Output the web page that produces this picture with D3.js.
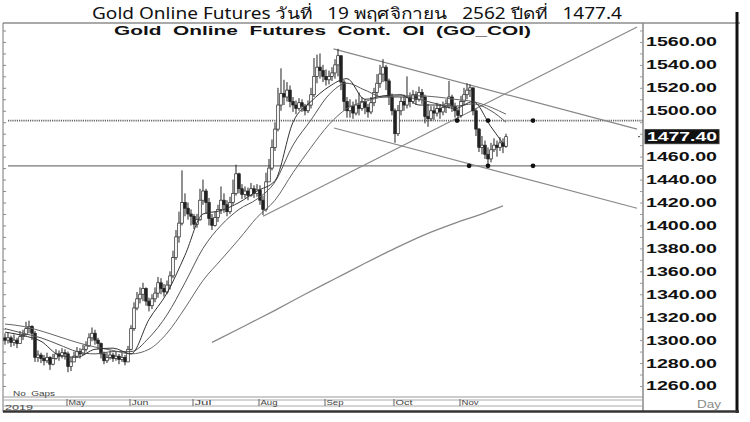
<!DOCTYPE html>
<html><head><meta charset="utf-8">
<script src="https://cdn.jsdelivr.net/npm/d3@7"></script>
<style>body{margin:0;background:#fff}svg{display:block}</style>
</head><body><svg id="c" width="750" height="422"></svg>
<script>
// ---- data ----
const titleText = "Gold Online Futures วันที่   19 พฤศจิกายน   2562 ปีดที่   1477.4";
const subtitleText = "Gold  Online  Futures  Cont.  OI  (GO_COI)";
const firstOpen = 1302;
const closes = [1300,1302,1298,1300,1297,1303,1305,1310,1312,1306,
1285,1287,1284,1282,1285,1279,1284,1288,1286,1289,
1288,1277,1281,1286,1290,1288,1292,1295,1302,1306,
1300,1297,1288,1282,1285,1287,1284,1286,1283,1285,
1281,1292,1310,1328,1336,1340,1345,1334,1330,1336,
1341,1350,1345,1342,1348,1356,1372,1390,1402,1420,
1415,1410,1408,1401,1405,1422,1430,1420,1406,1400,
1407,1414,1422,1418,1412,1420,1428,1445,1432,1427,
1430,1426,1432,1428,1431,1422,1414,1438,1450,1468,
1484,1505,1515,1512,1518,1508,1505,1502,1507,1504,
1500,1505,1514,1530,1538,1535,1530,1527,1530,1533,
1540,1548,1525,1508,1500,1504,1498,1505,1502,1508,
1503,1499,1507,1516,1524,1532,1538,1526,1512,1500,
1480,1500,1508,1505,1512,1508,1514,1510,1516,1512,
1495,1493,1500,1498,1502,1499,1503,1506,1512,1504,
1500,1496,1508,1514,1518,1520,1500,1484,1468,1470,
1462,1458,1466,1470,1468,1472,1469,1477.4];
const highs = [1306,1307,1304,1305,1302,1308,1309,1316,1317,1313,
1308,1291,1289,1287,1289,1286,1288,1292,1291,1293,
1292,1290,1285,1290,1294,1293,1296,1299,1306,1311,
1309,1302,1298,1290,1289,1291,1289,1290,1288,1289,
1287,1295,1313,1333,1342,1346,1350,1346,1337,1340,
1346,1355,1354,1349,1352,1360,1378,1396,1412,1448,
1428,1420,1414,1410,1410,1432,1440,1432,1424,1410,
1412,1418,1434,1428,1422,1425,1440,1453,1446,1436,
1434,1433,1437,1435,1436,1435,1426,1446,1458,1475,
1490,1520,1537,1527,1525,1522,1512,1509,1511,1510,
1506,1509,1520,1546,1549,1550,1540,1536,1535,1538,
1545,1554,1548,1527,1512,1510,1508,1510,1516,1512,
1510,1506,1512,1520,1532,1540,1545,1540,1528,1515,
1502,1505,1512,1514,1530,1516,1518,1517,1521,1519,
1514,1506,1504,1504,1507,1505,1508,1510,1526,1514,
1507,1502,1513,1520,1524,1523,1520,1502,1485,1478,
1474,1468,1472,1476,1474,1477,1476,1480];
const lows = [1296,1297,1294,1295,1293,1297,1300,1304,1306,1300,
1281,1281,1280,1278,1280,1274,1278,1283,1282,1284,
1283,1272,1273,1281,1285,1284,1287,1290,1294,1299,
1296,1292,1284,1279,1280,1283,1281,1282,1279,1281,
1278,1283,1291,1308,1326,1332,1334,1330,1325,1327,
1333,1337,1340,1338,1340,1344,1354,1370,1385,1400,
1408,1405,1400,1397,1398,1404,1418,1410,1400,1396,
1399,1403,1410,1411,1408,1410,1418,1426,1428,1423,
1424,1422,1425,1424,1425,1418,1409,1412,1438,1448,
1465,1482,1500,1505,1508,1503,1499,1497,1500,1499,
1496,1498,1502,1512,1524,1528,1525,1522,1523,1526,
1528,1530,1518,1500,1494,1494,1493,1496,1496,1500,
1497,1494,1497,1504,1512,1520,1525,1518,1505,1496,
1472,1478,1496,1500,1502,1503,1506,1505,1508,1506,
1489,1486,1491,1492,1495,1493,1496,1498,1502,1499,
1494,1491,1494,1505,1510,1512,1496,1478,1464,1462,
1458,1451,1455,1464,1460,1465,1463,1468];
// moving averages, sampled every few sessions
const maIdx  = [0,6,12,18,24,30,36,42,48,54,60,66,72,78,84,90,96,102,108,114,120,126,132,138,144,150,156,162,167];
const maFast = [1307,1304,1299,1287,1285,1292,1293,1288,1318,1341,1374,1410,1413,1420,1430,1439,1490,1508,1521,1528,1510,1513,1514,1505,1505,1502,1508,1486,1468];
const maMid  = [1310,1306,1302,1296,1290,1288,1290,1290,1302,1322,1350,1380,1400,1414,1423,1438,1470,1492,1514,1524,1518,1512,1512,1510,1506,1504,1506,1500,1490];
const maSlow = [1314,1312,1308,1303,1298,1294,1291,1288,1292,1306,1328,1352,1370,1388,1407,1422,1446,1468,1488,1502,1508,1512,1513,1513,1512,1510,1508,1503,1497];
const ma200Idx = [69,80,90,100,110,120,130,140,150,160,166];
const ma200    = [1298,1312.5,1326,1340,1353.5,1367,1380,1392,1402,1411,1417];
// drawn trend lines [session, price]
const trendUpper = [[109.5,1554],[210.7,1484]];
const trendLower = [[109.7,1485],[210.7,1415]];
const trendRise  = [[86,1408],[210.7,1573]];
const levelDotted = 1491.4, levelSolid = 1452;
const dotsDotted = [150.7,161,176], dotsSolid = [154.7,161,176];
const priceTicks = [1560,1540,1520,1500,1460,1440,1420,1400,1380,1360,1340,1320,1300,1280,1260];
const lastPrice = 1477.4;
const monthLabels = ["May","Jun","Jul","Aug","Sep","Oct","Nov"];
const monthIdx = [21,42,63,85,107,130,152];

// ---- drawing ----
const svg = d3.select("#c");
const F = "'Liberation Sans', Arial, sans-serif";
const x = d3.scaleLinear().domain([0,212.67]).range([5,643]);
const y = d3.scaleLinear().domain([1250.4,1577.4]).range([397,22]);

svg.append("rect").attr("width",750).attr("height",422).attr("fill","#fff");
svg.append("defs").append("clipPath").attr("id","plot").append("rect")
  .attr("x",3).attr("y",23).attr("width",640).attr("height",374);

// title
svg.append("text").attr("x",92).attr("y",19).attr("font-family","'Noto Sans', 'Liberation Sans', sans-serif")
  .attr("font-size",15.5).attr("fill","#111").attr("textLength",530).attr("lengthAdjust","spacingAndGlyphs")
  .attr("xml:space","preserve").style("white-space","pre").text(titleText);
svg.append("text").attr("x",114).attr("y",35).attr("font-family",F).attr("font-weight","bold")
  .attr("font-size",13).attr("fill","#111").attr("textLength",417).attr("lengthAdjust","spacingAndGlyphs")
  .style("white-space","pre").text(subtitleText);

// frame
const fr = svg.append("g");
fr.append("line").attr("x1",3).attr("x2",740).attr("y1",23).attr("y2",23).attr("stroke","#555").attr("stroke-width",1.2);
fr.append("line").attr("x1",3).attr("x2",3).attr("y1",23).attr("y2",412).attr("stroke","#777");
fr.append("line").attr("x1",643).attr("x2",643).attr("y1",23).attr("y2",411).attr("stroke","#888").attr("stroke-width",1.5);
fr.append("line").attr("x1",737).attr("x2",737).attr("y1",12).attr("y2",413).attr("stroke","#111").attr("stroke-width",3);
[[397,"#999"],[400,"#aaa"],[406,"#aaa"]].forEach(([yy,c])=>fr.append("line").attr("x1",3).attr("x2",643).attr("y1",yy).attr("y2",yy).attr("stroke",c));
fr.append("line").attr("x1",3).attr("x2",739).attr("y1",411.5).attr("y2",411.5).attr("stroke","#333").attr("stroke-width",2.5);

// minor ticks
const minor = y.ticks(33);
svg.append("g").attr("transform","translate(3,0)").call(d3.axisRight(y).tickValues(minor).tickSize(3).tickFormat(""))
  .call(g=>{g.select(".domain").remove();g.selectAll("line").attr("stroke","#888");});
svg.append("g").attr("transform","translate(643,0)").call(d3.axisLeft(y).tickValues(minor).tickSize(3).tickFormat(""))
  .call(g=>{g.select(".domain").remove();g.selectAll("line").attr("stroke","#999");});

// right axis labels
svg.append("g").attr("transform","translate(646,0)")
  .call(d3.axisRight(y).tickValues(priceTicks).tickSize(0).tickPadding(0).tickFormat(d3.format(".2f")))
  .call(g=>{g.select(".domain").remove();
    g.selectAll("text").attr("font-family",F).attr("font-weight","bold").attr("font-size",12.5)
     .attr("fill","#111").attr("textLength",71).attr("lengthAdjust","spacingAndGlyphs");});
svg.append("rect").attr("x",645).attr("y",y(lastPrice)-7).attr("width",74).attr("height",14).attr("fill","#111").attr("stroke","#333");
svg.append("text").attr("x",647).attr("y",y(lastPrice)).attr("dy","0.35em").attr("font-family",F).attr("font-weight","bold")
  .attr("font-size",12.5).attr("fill","#fff").attr("textLength",70).attr("lengthAdjust","spacingAndGlyphs").text(d3.format(".2f")(lastPrice));
svg.append("line").attr("x1",638).attr("x2",640).attr("y1",y(lastPrice)).attr("y2",y(lastPrice)).attr("stroke","#444");

// bottom labels
svg.append("text").attr("x",13).attr("y",396).attr("font-family",F).attr("font-size",8).attr("fill","#444")
  .attr("textLength",42).attr("lengthAdjust","spacingAndGlyphs").style("white-space","pre").text("No  Gaps");
svg.append("text").attr("x",5).attr("y",410).attr("font-family",F).attr("font-size",8).attr("fill","#444")
  .attr("textLength",28).attr("lengthAdjust","spacingAndGlyphs").text("2019");
svg.append("text").attr("x",697).attr("y",408).attr("font-family",F).attr("font-size",10).attr("fill","#888")
  .attr("textLength",24).attr("lengthAdjust","spacingAndGlyphs").text("Day");
const mg = svg.append("g");
monthLabels.forEach((m,k)=>{
  const xx = x(monthIdx[k]) - 1;
  mg.append("line").attr("x1",xx).attr("x2",xx).attr("y1",399).attr("y2",406).attr("stroke","#666");
  mg.append("text").attr("x",xx+1.5).attr("y",405).attr("font-family",F).attr("font-size",8).attr("fill","#444")
    .attr("textLength",17).attr("lengthAdjust","spacingAndGlyphs").text(m);
});

// plot content
const P = svg.append("g").attr("clip-path","url(#plot)");
const line = d3.line().x(d=>x(d[0])).y(d=>y(d[1]));
const lineC = d3.line().x(d=>x(d[0])).y(d=>y(d[1])).curve(d3.curveMonotoneX);

// horizontal levels
P.append("line").attr("x1",x(1)).attr("x2",643).attr("y1",y(levelDotted)).attr("y2",y(levelDotted))
  .attr("stroke","#666").attr("stroke-width",1.8).attr("stroke-dasharray","1.2,1");
P.append("line").attr("x1",x(1)).attr("x2",643).attr("y1",y(levelSolid)).attr("y2",y(levelSolid))
  .attr("stroke","#777").attr("stroke-width",1.2);

// trend lines
[trendUpper,trendLower,trendRise].forEach(t=>P.append("path").attr("d",line(t)).attr("fill","none").attr("stroke","#888").attr("stroke-width",1.2));
P.append("path").attr("d",lineC(ma200Idx.map((d,k)=>[d,ma200[k]]))).attr("fill","none").attr("stroke","#888").attr("stroke-width",1.3);

// candles
const idx = d3.range(closes.length);
const cg = P.append("g");
cg.selectAll("line").data(idx).join("line")
  .attr("x1",i=>x(i)).attr("x2",i=>x(i)).attr("y1",i=>y(highs[i])).attr("y2",i=>y(lows[i]))
  .attr("stroke","#222").attr("stroke-width",1);
cg.selectAll("rect").data(idx).join("rect")
  .attr("x",i=>x(i)-1.3).attr("width",2.6)
  .attr("y",i=>{const o=i?closes[i-1]:firstOpen;return y(Math.max(o,closes[i]));})
  .attr("height",i=>{const o=i?closes[i-1]:firstOpen;return Math.max(1,Math.abs(y(o)-y(closes[i])));})
  .attr("fill",i=>{const o=i?closes[i-1]:firstOpen;return closes[i]>=o?"#fff":"#222";})
  .attr("stroke","#222").attr("stroke-width",0.7);

// moving averages
[[maSlow,"#666"],[maMid,"#555"],[maFast,"#333"]].forEach(([s,c])=>
  P.append("path").attr("d",lineC(maIdx.map((d,k)=>[d,s[k]]))).attr("fill","none").attr("stroke",c).attr("stroke-width",1));

// dots
dotsDotted.forEach(d=>P.append("circle").attr("cx",x(d)).attr("cy",y(levelDotted)).attr("r",2.4).attr("fill","#111"));
dotsSolid.forEach(d=>P.append("circle").attr("cx",x(d)).attr("cy",y(levelSolid)).attr("r",2.4).attr("fill","#111"));
</script></body></html>
